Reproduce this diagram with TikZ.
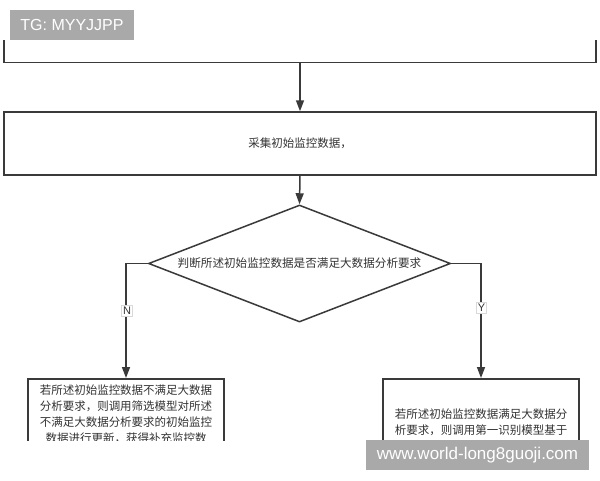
\documentclass[tikz,border=0pt]{standalone}
\usepackage{fontspec}
\setmainfont{Liberation Sans}
\newfontfamily\cjk{Noto Sans CJK SC}
\usetikzlibrary{shapes.geometric,arrows.meta}
\definecolor{linec}{HTML}{3A3A3A}
\definecolor{textc}{HTML}{333333}
\definecolor{wmgray}{HTML}{A9A9A9}
\begin{document}
\begin{tikzpicture}[x=1pt,y=-1pt,
  box/.style={draw=linec,line width=1.5pt,rectangle,inner sep=0pt,text=textc,font=\cjk\fontsize{11.5}{16}\selectfont},
  dia/.style={draw=linec,line width=1.5pt,diamond,aspect=2.58,inner sep=0pt,minimum width=302pt,minimum height=117pt,text=textc,font=\cjk\fontsize{11.6}{16}\selectfont},
  txt/.style={inner sep=0pt,text=textc,font=\cjk\fontsize{11.5}{16}\selectfont,align=center},
  arr/.style={draw=linec,line width=1.5pt,-{Triangle[length=11pt,width=8pt]}},
  lab/.style={fill=white,draw=gray!30,line width=0.5pt,inner sep=1.5pt,text=textc,font=\fontsize{11}{12}\selectfont},
  wm/.style={fill=wmgray,text=white,inner sep=0pt}]
\useasboundingbox (0,0) rectangle (600,480);
\fill[white] (0,0) rectangle (600,480);
\begin{scope}
\clip (0,40) rectangle (600,440);
\node[box,minimum width=592pt,minimum height=100pt,anchor=south] (top) at (300,63) {};
\node[box,minimum width=592pt,minimum height=63pt] (collect) at (300,143.5) {采集初始监控数据，};
\node[dia] (judge) at (299.5,263.5) {判断所述初始监控数据是否满足大数据分析要求};
\node[box,minimum width=196pt,minimum height=100pt,anchor=north] (no) at (126,378) {};
\node[box,minimum width=196pt,minimum height=100pt,anchor=north] (yes) at (481,378) {};
\node[txt,anchor=north] (notext) at (126,385) {若所述初始监控数据不满足大数据\\分析要求，则调用筛选模型对所述\\不满足大数据分析要求的初始监控\\数据进行更新，获得补充监控数};
\node[txt,anchor=north] (yestext) at (481,409) {若所述初始监控数据满足大数据分\\析要求，则调用第一识别模型基于\\初始监控数据进行大数据分析};
\draw[arr] (top.south) -- (collect.north);
\draw[arr] (collect.south) -- (judge.north);
\draw[arr] (judge.west) -| (no.north);
\draw[arr] (judge.east) -| (yes.north);
\end{scope}
\node[lab] (nlab) at (127,311) {N};
\node[lab] (ylab) at (481.5,308) {Y};
\node[wm,minimum width=124pt,minimum height=30pt,font=\fontsize{16}{18}\selectfont] (tg) at (72,25) {TG: MYYJJPP};
\node[wm,minimum width=223pt,minimum height=30pt,font=\fontsize{17}{19}\selectfont] (url) at (477.5,455) {www.world-long8guoji.com};
\end{tikzpicture}
\end{document}
